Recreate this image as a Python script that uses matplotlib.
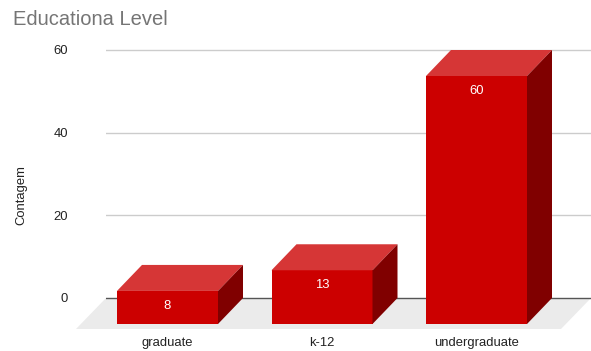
import matplotlib.pyplot as plt

categories = ['graduate', 'k-12', 'undergraduate']
counts = [8, 13, 60]
y_ticks = [0, 20, 40, 60]

W, H = 591, 351
plt.rcParams['font.family'] = ['Liberation Sans', 'DejaVu Sans']
fig = plt.figure(figsize=(W / 100, H / 100), dpi=100)

# back plane layout in pixels
px_per_unit = 248 / 60
zero_px = 298
slot_px = 154.5
first_px = 167.5
left_px, right_px = 106, 591
ylo, yhi = -12, 62
top_px = zero_px - yhi * px_per_unit
bot_px = zero_px - ylo * px_per_unit

ax = fig.add_axes([left_px / W, 1 - bot_px / H,
                   (right_px - left_px) / W, (bot_px - top_px) / H])
x0, x1 = (left_px - first_px) / slot_px, (right_px - first_px) / slot_px
ax.set_xlim(x0, x1)
ax.set_ylim(ylo, yhi)

# depth of bars and floor
dx, dy = 25 / slot_px, 26 / px_per_unit
fdx, fdy = 30 / slot_px, 31 / px_per_unit
half = 50.5 / slot_px

# floor
ax.fill([x0 - fdx, x1 - fdx, x1, x0], [-fdy, -fdy, 0, 0],
        color='#ebebeb', lw=0, zorder=0, clip_on=False)

# gridlines
for t in y_ticks:
    ax.axhline(t, color='#555555' if t == 0 else '#cccccc', lw=1, zorder=1)

for i, v in enumerate(counts):
    l, r = i - half, i + half
    ax.fill([l, r, r, l], [-dy, -dy, v - dy, v - dy],
            color='#cc0000', lw=0, zorder=3, clip_on=False)
    ax.fill([l, r, r + dx, l + dx], [v - dy, v - dy, v, v],
            color='#d63636', lw=0, zorder=3, clip_on=False)
    ax.fill([r, r + dx, r + dx, r], [-dy, 0, v, v - dy],
            color='#800000', lw=0, zorder=3, clip_on=False)
    ax.annotate(str(v), xy=(i, v - dy), xytext=(0, -10.5),
                textcoords='offset points', ha='center', va='center',
                color='white', fontsize=9.4)
    ax.text(i, (zero_px - 343) / px_per_unit, categories[i],
            ha='center', va='center', fontsize=9.4, color='#222222')

ax.set_yticks(y_ticks)
ax.set_xticks([])
ax.tick_params(axis='y', length=0, pad=27.4, labelsize=9.4, labelcolor='#222222')
for s in ax.spines.values():
    s.set_visible(False)
ax.patch.set_alpha(0)

fig.text(21 / W, 1 - 195 / H, 'Contagem', rotation=90, ha='center',
         va='center', fontsize=9.4, color='#222222')
fig.text(13 / W, 1 - 25 / H, 'Educationa Level', fontsize=14.5,
         color='#757575', ha='left', va='baseline')

fig.savefig('out.png', dpi=100)
